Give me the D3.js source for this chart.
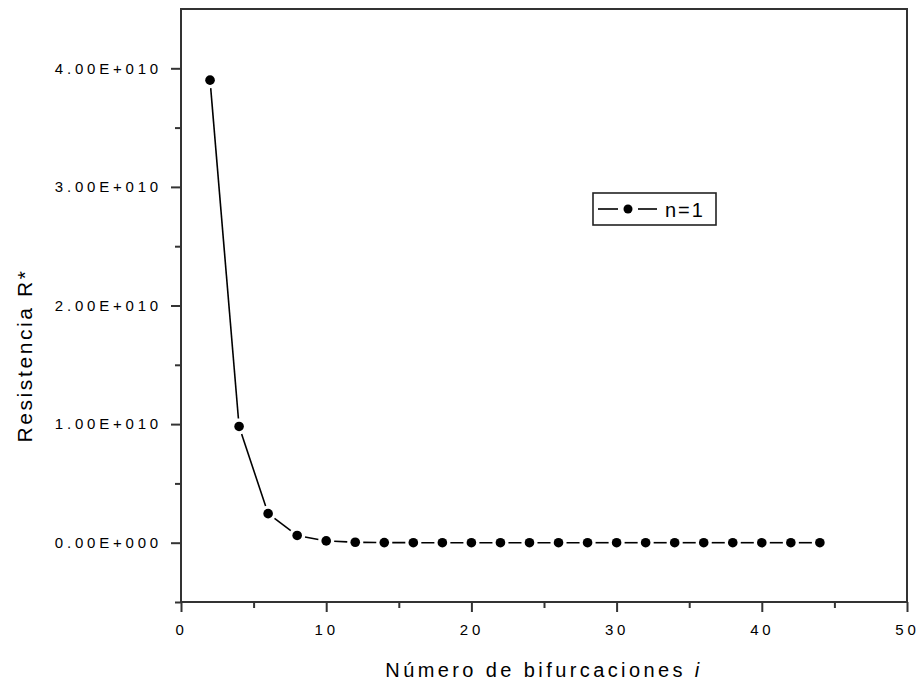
<!doctype html>
<html lang="es">
<head>
  <meta charset="utf-8">
  <title>Resistencia R*</title>
  <script src="https://cdn.jsdelivr.net/npm/d3@7"></script>
  <style>
    body { margin: 0; background: #fff; }
    svg text { font-family: Arial, "Liberation Sans", sans-serif; fill: #000; }
  </style>
</head>
<body>
<svg id="chart"></svg>
<script>
  // data
  var bifurcaciones = [2, 4, 6, 8, 10, 12, 14, 16, 18, 20, 22, 24, 26, 28, 30, 32, 34, 36, 38, 40, 42, 44];
  var resistencia = [3.9e10, 9.8e9, 2.45e9, 6.1e8, 1.5e8, 3.8e7, 1e7, 2e6, 6e5, 1e5, 4e4, 1e4,
                     2e3, 600, 150, 40, 10, 2, 0.6, 0.1, 0.04, 0.01];
  var xTicks = [0, 10, 20, 30, 40, 50];
  var xMinor = [5, 15, 25, 35, 45];
  var yTicks = [0, 1e10, 2e10, 3e10, 4e10];
  var yTickLabels = ["0.00E+000", "1.00E+010", "2.00E+010", "3.00E+010", "4.00E+010"];
  var yMinor = [-0.5e10, 0.5e10, 1.5e10, 2.5e10, 3.5e10];
  var serieName = "n=1";

  var W = 920, H = 687;
  var L = 181, R = 907, T = 9, B = 602;

  var svg = d3.select("#chart").attr("width", W).attr("height", H);

  var x = d3.scaleLinear().domain([0, 50]).range([L, R]);
  var y = d3.scaleLinear().domain([-0.5e10, 4.5e10]).range([B, T]);

  // frame
  svg.append("rect")
    .attr("x", L).attr("y", T).attr("width", R - L).attr("height", B - T)
    .attr("fill", "none").attr("stroke", "#333").attr("stroke-width", 2);

  // x axis
  var gx = svg.append("g").attr("transform", "translate(0," + B + ")");
  gx.call(d3.axisBottom(x).tickValues(xTicks).tickSize(10).tickPadding(12).tickFormat(d3.format("d")));
  gx.append("g").call(d3.axisBottom(x).tickValues(xMinor).tickSize(6).tickFormat(""));
  gx.selectAll(".domain").remove();
  gx.selectAll("line").attr("stroke", "#333").attr("stroke-width", 2);
  gx.selectAll("text").attr("font-size", 15).attr("letter-spacing", 3.8).attr("fill", "#000");

  // y axis
  var gy = svg.append("g").attr("transform", "translate(" + L + ",0)");
  gy.call(d3.axisLeft(y).tickValues(yTicks).tickSize(10).tickPadding(9)
    .tickFormat(function(d, i) { return yTickLabels[i]; }));
  gy.append("g").call(d3.axisLeft(y).tickValues(yMinor).tickSize(6).tickFormat(""));
  gy.selectAll(".domain").remove();
  gy.selectAll("line").attr("stroke", "#333").attr("stroke-width", 2);
  gy.selectAll("text").attr("font-size", 15).attr("letter-spacing", 3.8).attr("fill", "#000");

  // axis titles
  var xt = svg.append("text")
    .attr("x", (L + R) / 2).attr("y", 677)
    .attr("text-anchor", "middle").attr("font-size", 20).attr("letter-spacing", 3.4);
  xt.append("tspan").text("Número de bifurcaciones ");
  xt.append("tspan").attr("font-style", "italic").text(" i");

  svg.append("text")
    .attr("transform", "translate(32," + ((T + B) / 2 + 50) + ") rotate(-90)")
    .attr("text-anchor", "middle").attr("font-size", 21).attr("letter-spacing", 2.6)
    .text("Resistencia R*");

  // line segments with gaps around the markers
  var pts = bifurcaciones.map(function(d, i) { return [x(d), y(resistencia[i])]; });
  var gap = 8;
  var segs = [];
  for (var i = 0; i < pts.length - 1; i++) {
    var a = pts[i], b = pts[i + 1];
    var dx = b[0] - a[0], dy = b[1] - a[1];
    var len = Math.sqrt(dx * dx + dy * dy);
    if (len > 2 * gap) {
      segs.push([a[0] + dx * gap / len, a[1] + dy * gap / len, b[0] - dx * gap / len, b[1] - dy * gap / len]);
    }
  }
  svg.append("g").selectAll("line").data(segs).join("line")
    .attr("x1", function(d) { return d[0]; }).attr("y1", function(d) { return d[1]; })
    .attr("x2", function(d) { return d[2]; }).attr("y2", function(d) { return d[3]; })
    .attr("stroke", "#000").attr("stroke-width", 1.6);

  svg.append("g").selectAll("circle").data(bifurcaciones).join("circle")
    .attr("cx", function(d) { return x(d); })
    .attr("cy", function(d, i) { return y(resistencia[i]); })
    .attr("r", 4.8).attr("fill", "#000");

  // legend
  var lg = svg.append("g");
  lg.append("rect").attr("x", 593).attr("y", 193).attr("width", 123).attr("height", 32)
    .attr("fill", "#fff").attr("stroke", "#222").attr("stroke-width", 1.6);
  lg.append("line").attr("x1", 598).attr("x2", 618).attr("y1", 209).attr("y2", 209)
    .attr("stroke", "#000").attr("stroke-width", 1.6);
  lg.append("line").attr("x1", 638).attr("x2", 657).attr("y1", 209).attr("y2", 209)
    .attr("stroke", "#000").attr("stroke-width", 1.6);
  lg.append("circle").attr("cx", 628).attr("cy", 209).attr("r", 4.5).attr("fill", "#000");
  lg.append("text").attr("x", 665).attr("y", 217).attr("font-size", 20).attr("letter-spacing", 2)
    .text(serieName);
</script>
</body>
</html>
